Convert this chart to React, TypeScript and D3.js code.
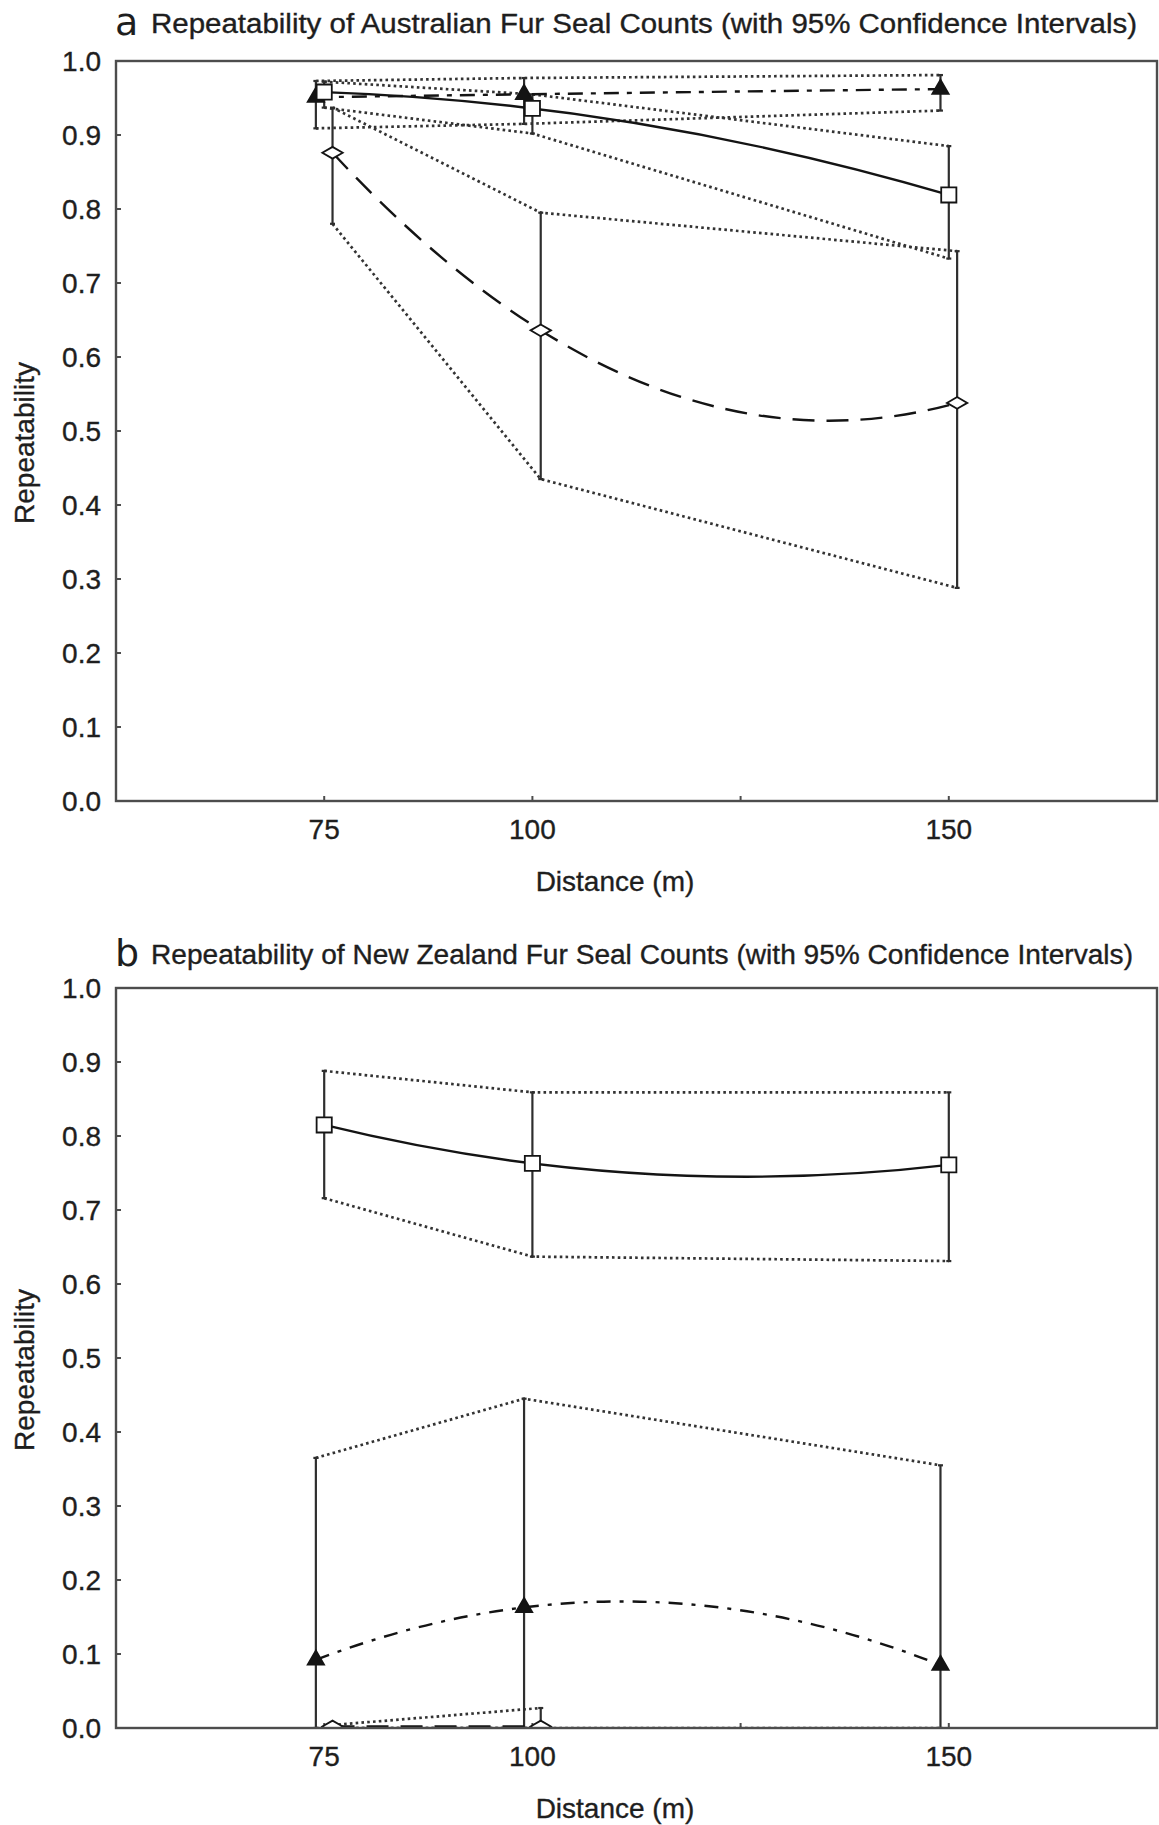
import React from "react";
import * as d3 from "d3";

// ---------- data ----------
const distances = [75, 100, 150];
const xTickValues = [75, 100, 125, 150];
const xTickLabels = ["75", "100", "", "150"];
const yTickValues = [0, 0.1, 0.2, 0.3, 0.4, 0.5, 0.6, 0.7, 0.8, 0.9, 1.0];
const yTickLabels = ["0.0", "0.1", "0.2", "0.3", "0.4", "0.5", "0.6", "0.7", "0.8", "0.9", "1.0"];

// Panel a: Australian fur seal
const aTriangleMean = [0.951, 0.955, 0.962];
const aTriangleLower = [0.909, 0.915, 0.933];
const aTriangleUpper = [0.973, 0.977, 0.981];
const aSquareMean = [0.958, 0.936, 0.819];
const aSquareLower = [0.937, 0.902, 0.733];
const aSquareUpper = [0.972, 0.955, 0.885];
const aDiamondMean = [0.876, 0.636, 0.538];
const aDiamondLower = [0.78, 0.435, 0.288];
const aDiamondUpper = [0.937, 0.795, 0.743];

// Panel b: New Zealand fur seal (null = not shown)
const bSquareMean = [0.815, 0.763, 0.761];
const bSquareLower = [0.716, 0.637, 0.631];
const bSquareUpper = [0.888, 0.859, 0.859];
const bTriangleMean = [0.092, 0.163, 0.085];
const bTriangleLower = [0, 0, 0];
const bTriangleUpper = [0.365, 0.445, 0.355];
const bDiamondMean = [0.002, 0.002, null];
const bDiamondLower = [0, 0, null];
const bDiamondUpper = [0.004, 0.027, null];

const titleA = "Repeatability of Australian Fur Seal Counts (with 95% Confidence Intervals)";
const titleB = "Repeatability of New Zealand Fur Seal Counts (with 95% Confidence Intervals)";
const xLabel = "Distance (m)";
const yLabel = "Repeatability";

// ---------- styles ----------
const FONT = "'Liberation Sans', Arial, sans-serif";
const TEXT = "#1e1e1e";
const FRAME = "#4d4d4d";
const INK = "#141414";
const DOT = "#333";

const seriesStyle = {
  triangle: { offset: -1, dash: "15,8,5,8", marker: "triangle" },
  square: { offset: 0, dash: null, marker: "square" },
  diamond: { offset: 1, dash: "22,12", marker: "diamond" },
};

// quadratic fit through 3 points, drawn as an exact quadratic Bezier
function curveQuad(context) {
  let pts = [];
  return {
    areaStart() {},
    areaEnd() {},
    lineStart() { pts = []; },
    point(x, y) { pts.push([+x, +y]); },
    lineEnd() {
      if (pts.length === 3) {
        const [p0, p1, p2] = pts;
        const d01 = (p1[1] - p0[1]) / (p1[0] - p0[0]);
        const d12 = (p2[1] - p1[1]) / (p2[0] - p1[0]);
        const a = (d12 - d01) / (p2[0] - p0[0]);
        const s0 = d01 + a * (p0[0] - p1[0]);
        const cx = (p0[0] + p2[0]) / 2;
        const cy = p0[1] + s0 * (cx - p0[0]);
        context.moveTo(p0[0], p0[1]);
        context.quadraticCurveTo(cx, cy, p2[0], p2[1]);
      } else if (pts.length) {
        context.moveTo(pts[0][0], pts[0][1]);
        for (let i = 1; i < pts.length; i++) context.lineTo(pts[i][0], pts[i][1]);
      }
    },
  };
}

const markerPaths = {
  square: d3.symbol(d3.symbolSquare, 230)(),
  triangle: d3.symbol(d3.symbolTriangle, 115)(),
  diamond: d3.symbol(d3.symbolDiamond, 120)(),
};

const LEFT = 116;
const RIGHT = 1157;

function Panel({ id, top, bottom, titleY, letter, title, titleLen, series, x }) {
  const y = d3.scaleLinear().domain([0, 1]).range([bottom, top]);
  const line = d3.line().curve(curveQuad);
  const straight = d3.line();
  const textProps = { fontFamily: FONT, fill: TEXT, stroke: TEXT, strokeWidth: 0.35 };
  const idx = (arr) => distances.map((_, i) => i).filter((i) => arr[i] !== null);
  return (
    <g>
      <defs>
        <clipPath id={"clip-" + id}>
          <rect x={LEFT} y={top} width={RIGHT - LEFT} height={bottom - top} />
        </clipPath>
      </defs>
      {/* title */}
      <text x={LEFT - 1} y={titleY + 1} fontFamily="'DejaVu Sans', sans-serif" fontSize={38} fill={TEXT}>{letter}</text>
      <text x={151} y={titleY - 1} fontSize={27} textLength={titleLen} lengthAdjust="spacingAndGlyphs" {...textProps}>{title}</text>

      {/* y ticks */}
      {yTickValues.map((v, i) => (
        <g key={"yt" + i}>
          <line x1={LEFT} x2={LEFT + 5} y1={y(v)} y2={y(v)} stroke={FRAME} strokeWidth={2} />
          <text x={101} y={y(v)} dy="0.36em" textAnchor="end" fontSize={28} {...textProps}>{yTickLabels[i]}</text>
        </g>
      ))}
      {/* x ticks */}
      {xTickValues.map((v, i) => (
        <g key={"xt" + i}>
          <line x1={x(v)} x2={x(v)} y1={bottom} y2={bottom - 5} stroke={FRAME} strokeWidth={2} />
          <text x={x(v)} y={bottom + 28} dy="0.36em" textAnchor="middle" fontSize={28} {...textProps}>{xTickLabels[i]}</text>
        </g>
      ))}
      <text x={615} y={bottom + 80} dy="0.36em" textAnchor="middle" fontSize={28} {...textProps}>{xLabel}</text>
      <text transform={`translate(24,${(top + bottom) / 2 + 12}) rotate(-90)`} dy="0.36em" textAnchor="middle" fontSize={28} {...textProps}>{yLabel}</text>

      <g clipPath={`url(#clip-${id})`}>
        {/* CI dotted lines */}
        {series.map((s, k) => {
          const ids = idx(s.mean);
          return (
            <g key={"ci" + k}>
              <path d={straight(ids.map((i) => [x(distances[i] + s.style.offset), y(s.upper[i])]))} fill="none" stroke={DOT} strokeWidth={2.7} strokeDasharray="2.6,3.2" />
              <path d={straight(ids.map((i) => [x(distances[i] + s.style.offset), y(s.lower[i])]))} fill="none" stroke={DOT} strokeWidth={2.7} strokeDasharray="2.6,3.2" />
            </g>
          );
        })}
        {/* error bars */}
        {series.map((s, k) =>
          idx(s.mean).map((i) => {
            const xx = x(distances[i] + s.style.offset);
            return (
              <g key={"eb" + k + "-" + i} stroke="#2e2e2e" strokeWidth={2.2}>
                <line x1={xx} x2={xx} y1={y(s.lower[i])} y2={y(s.upper[i])} />
                <line x1={xx - 2.5} x2={xx + 2.5} y1={y(s.lower[i])} y2={y(s.lower[i])} />
                <line x1={xx - 2.5} x2={xx + 2.5} y1={y(s.upper[i])} y2={y(s.upper[i])} />
              </g>
            );
          })
        )}
        {/* fitted curves */}
        {series.map((s, k) => (
          <path
            key={"fit" + k}
            d={line(idx(s.mean).map((i) => [x(distances[i] + s.style.offset), y(s.mean[i])]))}
            fill="none"
            stroke={INK}
            strokeWidth={2.4}
            strokeDasharray={s.style.dash || undefined}
          />
        ))}
        {/* markers */}
        {series.map((s, k) =>
          idx(s.mean).map((i) => {
            const m = s.style.marker;
            const xx = x(distances[i] + s.style.offset);
            const yy = y(s.mean[i]);
            return (
              <path
                key={"mk" + k + "-" + i}
                d={markerPaths[m]}
                transform={`translate(${xx},${yy})${m === "diamond" ? " rotate(90)" : ""}`}
                fill={m === "triangle" ? INK : "#fff"}
                stroke={INK}
                strokeWidth={1.8}
              />
            );
          })
        )}
      </g>

      {/* frame on top */}
      <rect x={LEFT} y={top} width={RIGHT - LEFT} height={bottom - top} fill="none" stroke={FRAME} strokeWidth={2.4} />
    </g>
  );
}

export default function App() {
  const x = d3.scaleLinear().domain([50, 175]).range([LEFT, RIGHT]);
  const seriesA = [
    { mean: aTriangleMean, lower: aTriangleLower, upper: aTriangleUpper, style: seriesStyle.triangle },
    { mean: aSquareMean, lower: aSquareLower, upper: aSquareUpper, style: seriesStyle.square },
    { mean: aDiamondMean, lower: aDiamondLower, upper: aDiamondUpper, style: seriesStyle.diamond },
  ];
  const seriesB = [
    { mean: bTriangleMean, lower: bTriangleLower, upper: bTriangleUpper, style: { ...seriesStyle.triangle, dash: "14,9,4,9" } },
    { mean: bSquareMean, lower: bSquareLower, upper: bSquareUpper, style: seriesStyle.square },
    { mean: bDiamondMean, lower: bDiamondLower, upper: bDiamondUpper, style: seriesStyle.diamond },
  ];
  return (
    <svg width={1159} height={1825} style={{ position: "absolute", left: 0, top: 0, background: "#fff" }}>
      <rect x={0} y={0} width={1159} height={1825} fill="#fff" />
      <Panel id="a" top={61} bottom={801} titleY={34} letter="a" title={titleA} titleLen={986} series={seriesA} x={x} />
      <Panel id="b" top={988} bottom={1728} titleY={965} letter="b" title={titleB} titleLen={982} series={seriesB} x={x} />
    </svg>
  );
}
